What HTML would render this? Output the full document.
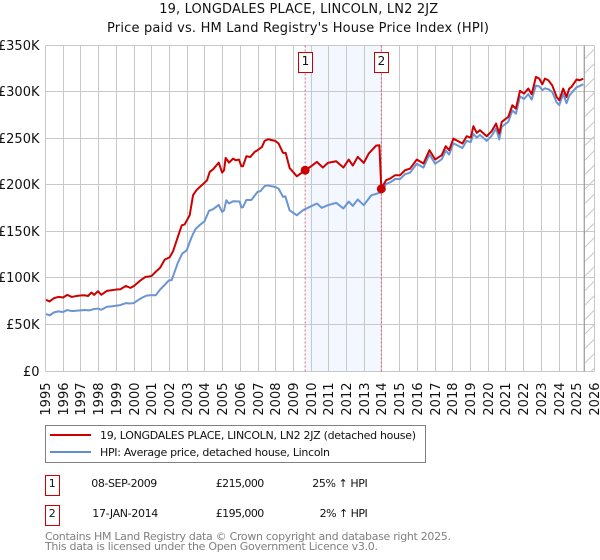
<!DOCTYPE html>
<html lang="en">
<head>
<meta charset="utf-8">
<title>19, Longdales Place, Lincoln - Price paid vs. HPI</title>
<style>
html,body{margin:0;padding:0;background:#fff;width:600px;height:560px;overflow:hidden}
svg{display:block}
text{font-family:"DejaVu Sans","Liberation Sans",sans-serif;fill:#111}
</style>
</head>
<body>
<svg id="chart" xmlns="http://www.w3.org/2000/svg" width="600" height="560" viewBox="0 0 600 560">
  <defs>
    <pattern id="hatch" patternUnits="userSpaceOnUse" width="14.5" height="14.5" patternTransform="translate(585 44)">
      <path d="M0 14.5L14.5 0" stroke="#c8c8c8" stroke-width="1" fill="none"/>
    </pattern>
  </defs>
  <text x="298.7" y="13" font-size="13" text-anchor="middle" textLength="279" lengthAdjust="spacing">19, LONGDALES PLACE, LINCOLN, LN2 2JZ</text>
  <text x="298" y="32" font-size="13" text-anchor="middle" textLength="382" lengthAdjust="spacing">Price paid vs. HM Land Registry's House Price Index (HPI)</text>
  <g id="plot"></g>

  <g>
    <rect x="45.5" y="425.5" width="380" height="37" fill="#fff" stroke="#808080" stroke-width="1"/>
    <line x1="50" y1="435" x2="91" y2="435" stroke="#cc0000" stroke-width="2"/>
    <text x="100" y="439" font-size="11" textLength="316" lengthAdjust="spacing">19, LONGDALES PLACE, LINCOLN, LN2 2JZ (detached house)</text>
    <line x1="50" y1="452" x2="91" y2="452" stroke="#5f8dd3" stroke-width="2"/>
    <text x="100" y="456" font-size="11" textLength="230" lengthAdjust="spacing">HPI: Average price, detached house, Lincoln</text>
  </g>

  <g>
    <rect x="45.5" y="475.5" width="14" height="20" fill="#fff" stroke="#cc0000" stroke-width="1"/>
    <text x="52.3" y="487" font-size="11" text-anchor="middle">1</text>
    <text x="91.3" y="487" font-size="11" textLength="66" lengthAdjust="spacing">08-SEP-2009</text>
    <text x="215.7" y="487" font-size="11" textLength="48.6" lengthAdjust="spacing">£215,000</text>
    <text x="312.3" y="487" font-size="11" textLength="55.4" lengthAdjust="spacing">25% ↑ HPI</text>
  </g>
  <g>
    <rect x="45.5" y="505.5" width="14" height="20" fill="#fff" stroke="#cc0000" stroke-width="1"/>
    <text x="52.3" y="517" font-size="11" text-anchor="middle">2</text>
    <text x="92.3" y="517" font-size="11" textLength="66" lengthAdjust="spacing">17-JAN-2014</text>
    <text x="215.7" y="517" font-size="11" textLength="48.6" lengthAdjust="spacing">£195,000</text>
    <text x="319.6" y="517" font-size="11" textLength="48.1" lengthAdjust="spacing">2% ↑ HPI</text>
  </g>

  <text x="45" y="540" font-size="11" style="fill:#808080" textLength="406" lengthAdjust="spacing">Contains HM Land Registry data © Crown copyright and database right 2025.</text>
  <text x="45" y="550" font-size="11" style="fill:#808080" textLength="333" lengthAdjust="spacing">This data is licensed under the Open Government Licence v3.0.</text>
</svg>

<script>
const yearTicks = [1995,1996,1997,1998,1999,2000,2001,2002,2003,2004,2005,2006,2007,2008,2009,2010,2011,2012,2013,2014,2015,2016,2017,2018,2019,2020,2021,2022,2023,2024,2025,2026];
const valueTicks = [0,50,100,150,200,250,300,350];
const valueTickLabels = ['£0','£50K','£100K','£150K','£200K','£250K','£300K','£350K'];

const hpiDates = [1995.06,1995.26,1995.51,1995.75,1996.02,1996.26,1996.51,1996.75,1997,1997.25,1997.5,1997.75,1998,1998.18,1998.5,1998.75,1999,1999.25,1999.56,1999.8,2000,2000.25,2000.5,2000.75,2001,2001.25,2001.5,2001.75,2002,2002.15,2002.5,2002.75,2003,2003.25,2003.5,2003.75,2004,2004.26,2004.49,2004.81,2005,2005.11,2005.24,2005.39,2005.62,2005.99,2006.09,2006.18,2006.37,2006.65,2007,2007.16,2007.4,2007.59,2008,2008.19,2008.44,2008.57,2008.81,2009.22,2009.56,2009.94,2010.35,2010.63,2010.97,2011.44,2011.85,2012.15,2012.38,2012.66,2013,2013.42,2013.99,2014.26,2014.49,2014.77,2015.05,2015.33,2015.62,2015.99,2016.37,2016.71,2017.03,2017.4,2017.63,2017.82,2018.06,2018.57,2018.81,2019.04,2019.19,2019.38,2019.56,2019.94,2020.22,2020.47,2020.65,2020.79,2021.16,2021.39,2021.59,2021.82,2022.05,2022.29,2022.48,2022.72,2022.91,2023.08,2023.23,2023.42,2023.64,2023.89,2024.04,2024.26,2024.45,2024.6,2024.73,2025.01,2025.2,2025.39];
const hpiValues = [60.6,59.2,62.4,63.5,62.8,64.9,63.8,64.2,64.5,64.9,64.5,66,66.5,65.2,68.4,68.8,69.5,70.2,72.3,72,72.3,75.5,78.4,80.5,80.8,80.8,86.9,91.8,96.8,97,115.6,125.5,129,142,152,156.4,160,171.4,173.2,177.8,170.3,172,182.8,179.3,181.7,181.4,175,175.5,183,183,191.8,192.5,198,198.7,197,195.3,186.4,187,172,166.7,172,175.6,179.3,174.6,177.5,180,174,181.4,176.7,183.6,177.5,188,191.5,200.3,202,205.6,205.6,210.8,212.5,222,217.8,231.9,222,226.7,236,231.9,244,238.9,246.6,245.2,254,250,253,246.6,251.9,259.9,248,261.7,267,279.2,275.7,294.3,291.5,296.8,290.8,306,305,301,303,302,299,288,285,297,287,295,298,304,305.5,307.4];

const paidDates = [1995.06,1995.26,1995.51,1995.75,1996.02,1996.26,1996.51,1996.73,1996.98,1997.22,1997.43,1997.62,1997.77,1997.99,1998.18,1998.5,1998.75,1999.01,1999.26,1999.56,1999.82,2000.03,2000.35,2000.67,2001.01,2001.29,2001.5,2001.76,2002.04,2002.23,2002.51,2002.72,2002.89,2003.17,2003.36,2003.55,2003.74,2004,2004.15,2004.3,2004.49,2004.81,2005,2005.11,2005.2,2005.39,2005.62,2005.77,2005.95,2006.09,2006.18,2006.37,2006.59,2006.84,2007,2007.25,2007.4,2007.59,2008,2008.19,2008.44,2008.59,2008.81,2009.22,2009.47,2009.69,2009.98,2010.35,2010.69,2010.97,2011.44,2011.85,2012.15,2012.38,2012.66,2013,2013.28,2013.7,2013.88,2013.99,2014.26,2014.49,2014.77,2015.05,2015.33,2015.62,2015.99,2016.37,2016.71,2017.03,2017.4,2017.63,2017.82,2018.06,2018.57,2018.81,2019.04,2019.19,2019.38,2019.56,2019.94,2020.22,2020.47,2020.65,2020.79,2021.16,2021.39,2021.59,2021.82,2022.05,2022.29,2022.48,2022.72,2022.91,2023.08,2023.23,2023.42,2023.64,2023.89,2024.04,2024.26,2024.45,2024.6,2024.73,2025.01,2025.2,2025.39];
const paidValues = [75.9,74.1,77.7,79,78.4,81.2,79,79.8,80.5,80.8,80,83.7,81.2,85.1,81.2,85.5,86.2,86.9,87.2,90.8,88.7,90.8,96.1,100.4,101.4,106.7,110.3,119,121.6,128,144,155.7,157,166.7,188.2,193.6,197,201.4,204.3,213.2,216,223.2,212.5,215,228.3,223.2,227.5,225.7,226.5,219.3,219.3,230,229.2,234.7,236.5,240,246.5,248.3,246.5,243.7,233.6,233.6,217.5,208.5,212,215,218.6,224,217.9,222.9,224.7,217.9,226.5,220,229.3,222.9,232.9,241.5,241.9,195.4,204.3,206.1,209.7,209.7,215,216.8,226.5,222.2,236.5,226.5,231.2,240.8,236.5,249,243.7,251.5,250.1,262.3,255.1,258,251.5,256.9,265.1,254.4,266.9,272.3,284.8,281.2,300.2,297.3,302.7,296.6,315.2,313.4,307.3,313.4,311.6,306.2,293.7,290.2,302.7,293.7,302.7,304.5,312.4,311.6,313.4];

const saleNumbers = ['1','2'];
const saleDates = [2009.69,2013.99];
const saleValues = [215,195];
const dataEndDate = 2025.45;

const SVGNS = 'http://www.w3.org/2000/svg';
const plot = document.getElementById('plot');

function xScale(year){ return 45 + (year - 1995) * 17.71; }
function yScale(value){ return 370.5 - value * 0.9314; }
function snap(p){ return Math.round(p) + 0.5; }
function make(tag, attrs){
  const node = document.createElementNS(SVGNS, tag);
  for (const key in attrs){ node.setAttribute(key, attrs[key]); }
  plot.appendChild(node);
  return node;
}
function linePath(dates, values){
  return dates.map(function(d, i){
    return (i ? 'L' : 'M') + xScale(d).toFixed(2) + ' ' + yScale(values[i]).toFixed(2);
  }).join('');
}

const plotTop = snap(yScale(350));
const plotBottom = snap(yScale(0));
const plotLeft = snap(xScale(1995));
const plotRight = snap(xScale(2026));

const band = make('rect', {x: xScale(saleDates[0]), y: plotTop, width: xScale(saleDates[1]) - xScale(saleDates[0]), height: plotBottom - plotTop, fill: '#f3f7ff'});



const hatchBox = make('rect', {x: xScale(dataEndDate), y: plotTop, width: plotRight - xScale(dataEndDate), height: plotBottom - plotTop, fill: 'url(#hatch)'});



yearTicks.forEach(function(year){
  const px = snap(xScale(year));
  const grid = make('line', {x1: px, x2: px, y1: plotTop, y2: plotBottom, stroke: '#c8c8c8', 'stroke-width': 1});
  
  
  const label = make('text', {x: 0, y: 0, 'font-size': 13, 'text-anchor': 'end', transform: 'translate(' + (px + 4.7) + ' 382.5) rotate(-90)'});
  
  
  label.textContent = String(year);
});

valueTicks.forEach(function(value, i){
  const py = snap(yScale(value));
  const grid = make('line', {x1: plotLeft, x2: plotRight, y1: py, y2: py, stroke: '#c8c8c8', 'stroke-width': 1});
  
  
  const label = make('text', {x: 39.5, y: py + 4.7, 'font-size': 13, 'text-anchor': 'end'});
  
  
  label.textContent = valueTickLabels[i];
});

const endLine = make('line', {x1: xScale(dataEndDate), x2: xScale(dataEndDate), y1: plotTop, y2: plotBottom, stroke: '#999999', 'stroke-width': 1.2});



saleDates.forEach(function(date){
  const px = xScale(date);
  const vline = make('line', {x1: px, x2: px, y1: plotTop, y2: plotBottom, stroke: '#e0404f', 'stroke-width': 1, 'stroke-dasharray': '2 2', opacity: 0.8});
  
  
});

const hpiLine = make('path', {d: linePath(hpiDates, hpiValues), fill: 'none', stroke: '#6a94d4', 'stroke-width': 2, 'stroke-linejoin': 'round'});



const paidLine = make('path', {d: linePath(paidDates, paidValues), fill: 'none', stroke: '#cc0000', 'stroke-width': 2, 'stroke-linejoin': 'round'});



saleDates.forEach(function(date, i){
  const px = xScale(date);
  const dot = make('circle', {cx: px, cy: yScale(saleValues[i]), r: 4.5, fill: '#cc0000'});
  
  
  const badge = make('rect', {x: Math.round(px) - 7 + 0.5, y: 52.5, width: 14, height: 20, fill: '#fff', stroke: '#cc0000', 'stroke-width': 1});
  
  
  const num = make('text', {x: Math.round(px) + 0.5, y: 65, 'font-size': 12, 'text-anchor': 'middle'});
  
  
  num.textContent = saleNumbers[i];
});
</script>
</body>
</html>
